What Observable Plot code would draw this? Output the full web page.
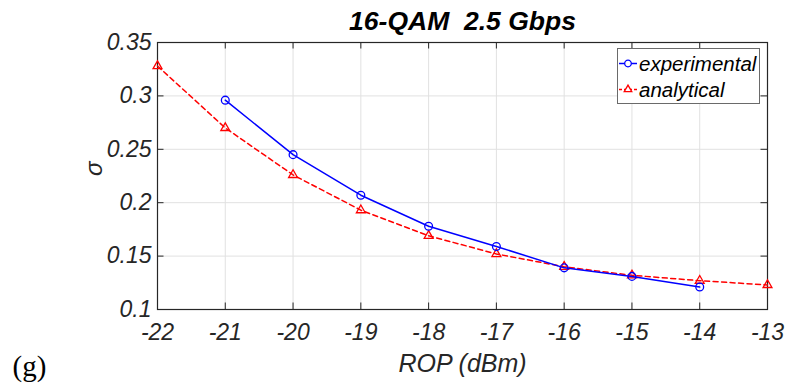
<!DOCTYPE html>
<html>
<head>
<meta charset="utf-8">
<script src="https://cdn.jsdelivr.net/npm/d3@7"></script>
<script src="https://cdn.jsdelivr.net/npm/@observablehq/plot@0.6"></script>
<style>
  body { margin: 0; background: #fff; }
  #wrap { position: relative; width: 787px; height: 387px; }
  #wrap svg text { white-space: pre; }
  #legend { position: absolute; left: 617px; top: 48px; }
</style>
</head>
<body>
<div id="wrap"></div>
<script>
const chartTitle = "16-QAM  2.5 Gbps";
const xLabel = "ROP (dBm)";
const yLabel = "σ";
const panelLabel = "(g)";
const seriesNames = ["experimental", "analytical"];

const xTicks = [-22, -21, -20, -19, -18, -17, -16, -15, -14, -13];
const yTicks = [0.1, 0.15, 0.2, 0.25, 0.3, 0.35];
const yTickLabels = ["0.1", "0.15", "0.2", "0.25", "0.3", "0.35"];

const experimentalROP = [-21, -20, -19, -18, -17, -16, -15, -14];
const experimentalSigma = [0.296, 0.245, 0.207, 0.178, 0.159, 0.139, 0.131, 0.121];

const analyticalROP = [-22, -21, -20, -19, -18, -17, -16, -15, -14, -13];
const analyticalSigma = [0.328, 0.270, 0.226, 0.193, 0.169, 0.152, 0.140, 0.132, 0.127, 0.123];

const experimental = experimentalROP.map((x, i) => ({x, y: experimentalSigma[i]}));
const analytical = analyticalROP.map((x, i) => ({x, y: analyticalSigma[i]}));

const W = 787, H = 387;
const mL = 157, mR = 20, mT = 42, mB = 78;
const frameW = W - mL - mR, frameH = H - mT - mB;
const tickLen = 6.5;
const axisColor = "#262626";
const gridColor = "#e1e1e1";
const blue = "#0000ff", red = "#ff0000";

const chart = Plot.plot({
  width: W, height: H,
  marginLeft: mL, marginRight: mR, marginTop: mT, marginBottom: mB,
  style: {fontFamily: "'Liberation Sans', Arial, sans-serif", fontSize: "23px", fontStyle: "italic", color: axisColor, background: "#fff"},
  x: {domain: [-22, -13]},
  y: {domain: [0.1, 0.35]},
  marks: [
    Plot.gridX(xTicks, {stroke: gridColor, strokeOpacity: 1}),
    Plot.gridY(yTicks, {stroke: gridColor, strokeOpacity: 1}),
    // inward tick marks (bottom, top, left, right)
    Plot.ruleX(xTicks, {x: d => d, insetTop: frameH - tickLen, stroke: axisColor}),
    Plot.ruleX(xTicks, {x: d => d, insetBottom: frameH - tickLen, stroke: axisColor}),
    Plot.ruleY(yTicks, {y: d => d, insetRight: frameW - tickLen, stroke: axisColor}),
    Plot.ruleY(yTicks, {y: d => d, insetLeft: frameW - tickLen, stroke: axisColor}),
    Plot.axisX({ticks: xTicks, tickFormat: d => String(d), tickSize: 0, tickPadding: 14, label: null, fontSize: 23, fontStyle: "italic", fill: axisColor}),
    Plot.axisY({ticks: yTicks, tickFormat: d => yTickLabels[yTicks.indexOf(d)], tickSize: 0, tickPadding: 6, label: null, fontSize: 23, fontStyle: "italic", fill: axisColor}),
    Plot.frame({stroke: axisColor, strokeWidth: 1.2}),
    // analytical
    Plot.line(analytical, {x: "x", y: "y", stroke: red, strokeWidth: 1.5, strokeDasharray: "5,3.5"}),
    Plot.dot(analytical, {x: "x", y: "y", symbol: "triangle", r: 3.3, stroke: red, strokeWidth: 1.3, fill: "none"}),
    // experimental
    Plot.line(experimental, {x: "x", y: "y", stroke: blue, strokeWidth: 1.5}),
    Plot.dot(experimental, {x: "x", y: "y", symbol: "circle", r: 3.9, stroke: blue, strokeWidth: 1.3, fill: "none"}),
    // labels
    Plot.text([chartTitle], {frameAnchor: "top", dy: -21, fontSize: 26.5, fontWeight: "bold", fontStyle: "italic", fill: "#000", lineAnchor: "middle"}),
    Plot.text([xLabel], {frameAnchor: "bottom", dy: 54, fontSize: 25, fontStyle: "italic", fill: axisColor, lineAnchor: "middle"}),
    Plot.text([yLabel], {frameAnchor: "left", dx: -63, rotate: -90, fontSize: 24, fontStyle: "italic", fill: axisColor, lineAnchor: "middle"}),
    Plot.text([panelLabel], {frameAnchor: "bottom-left", dx: -145, dy: 57, textAnchor: "start", lineAnchor: "middle", fontSize: 29, fontStyle: "normal", fontFamily: "'Liberation Serif', 'Times New Roman', serif", fill: "#000"})
  ]
});

const wrap = document.getElementById("wrap");
wrap.appendChild(chart);

// Legend (inside the axes, top-right)
const lw = 142, lh = 55;
const legend = d3.create("svg")
  .attr("id", "legend")
  .attr("width", lw + 1).attr("height", lh + 1)
  .style("font-family", "'Liberation Sans', Arial, sans-serif")
  .style("font-style", "italic")
  .style("font-size", "20.5px");
legend.append("rect").attr("x", 0.5).attr("y", 0.5).attr("width", lw).attr("height", lh)
  .attr("fill", "#fff").attr("stroke", "#6a6a6a").attr("stroke-width", 1);
const rows = [
  {name: seriesNames[0], color: blue, sym: "circle", dash: null, cy: 15.5},
  {name: seriesNames[1], color: red, sym: "triangle", dash: "3,2", cy: 41.5}
];
for (const r of rows) {
  legend.append("line").attr("x1", 2).attr("x2", 20).attr("y1", r.cy).attr("y2", r.cy)
    .attr("stroke", r.color).attr("stroke-width", 1.5).attr("stroke-dasharray", r.dash);
  const s = r.sym === "circle" ? d3.symbolCircle : d3.symbolTriangle;
  const size = r.sym === "circle" ? Math.PI * 3.3 * 3.3 : Math.PI * 2.8 * 2.8;
  legend.append("path").attr("d", d3.symbol(s, size)())
    .attr("transform", `translate(11,${r.cy})`)
    .attr("fill", "#fff").attr("stroke", r.color).attr("stroke-width", 1.3);
  legend.append("text").attr("x", 22).attr("y", r.cy).attr("dy", "0.35em")
    .attr("fill", "#000").text(r.name);
}
wrap.appendChild(legend.node());
</script>
</body>
</html>
